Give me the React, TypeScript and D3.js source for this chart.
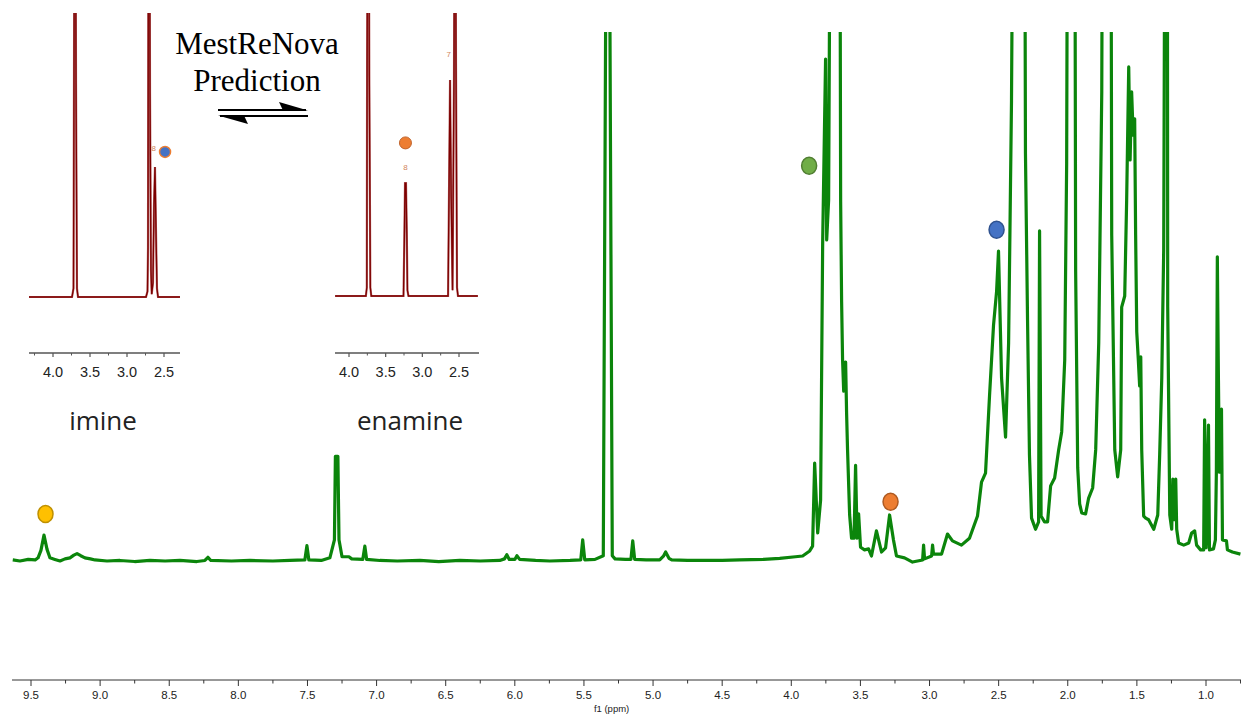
import React from 'react';
import * as d3 from 'd3';

const W = 1241;
const H = 715;

// Main 1H spectrum trace: [ppm, relative intensity] (100 = top of plot; larger values run off the top)
const mainSpectrum: [number, number][] = [
  [9.632, 0.2], [9.58, 0.0], [9.52, 0.3], [9.47, 0.2], [9.449, 0.6], [9.428, 2.0], [9.406, 4.9],
  [9.384, 2.2], [9.363, 0.6], [9.327, 0.3], [9.29, 0.0], [9.254, 0.4], [9.218, 0.6], [9.19, 1.1],
  [9.167, 1.4], [9.14, 1.0], [9.11, 0.6], [9.07, 0.4], [9.037, 0.2], [8.95, 0.0], [8.856, 0.1],
  [8.75, -0.1], [8.64, 0.1], [8.53, 0.0], [8.423, 0.1], [8.3, -0.1], [8.242, 0.1], [8.22, 0.7],
  [8.199, 0.1], [8.05, 0.0], [7.916, 0.1], [7.75, 0.0], [7.627, 0.1], [7.519, 0.2], [7.504, 2.9],
  [7.49, 0.2], [7.4, 0.1], [7.338, 0.6], [7.305, 4], [7.298, 19.8], [7.28, 19.8], [7.272, 4],
  [7.25, 0.8], [7.2, 0.8], [7.18, 0.4], [7.1, 0.3], [7.085, 2.8], [7.072, 0.3], [6.976, 0.1],
  [6.85, 0.0], [6.687, 0.1], [6.55, -0.1], [6.398, 0.1], [6.25, 0.0], [6.109, 0.1], [6.075, 0.4],
  [6.058, 1.2], [6.04, 0.3], [6.0, 0.3], [5.985, 1.0], [5.965, 0.3], [5.85, 0.1], [5.747, 0.0],
  [5.6, 0.1], [5.523, 0.2], [5.509, 4.0], [5.494, 0.2], [5.42, 0.3], [5.36, 1.0], [5.335, 150],
  [5.32, 150], [5.295, 1.0], [5.275, 0.4], [5.2, 0.3], [5.16, 0.3], [5.147, 3.8], [5.133, 0.3],
  [5.05, 0.2], [4.952, 0.2], [4.925, 0.9], [4.909, 1.7], [4.885, 0.5], [4.865, 0.2], [4.75, 0.1],
  [4.663, 0.1], [4.5, 0.1], [4.373, 0.2], [4.2, 0.3], [4.084, 0.5], [3.97, 0.8], [3.918, 0.95],
  [3.867, 1.9], [3.846, 2.8], [3.831, 18.5], [3.809, 5.3], [3.788, 11.5], [3.773, 60.3],
  [3.752, 94.9], [3.744, 60.7], [3.73, 68.2], [3.715, 150], [3.686, 250], [3.65, 150],
  [3.643, 68], [3.636, 49], [3.629, 38.0], [3.621, 32.1], [3.607, 37.6], [3.6, 28], [3.593, 21.0],
  [3.578, 8.7], [3.564, 4.3], [3.546, 4.3], [3.535, 18.1], [3.524, 4.3], [3.513, 8.9],
  [3.499, 2.6], [3.47, 2.1], [3.441, 2.3], [3.42, 0.95], [3.384, 5.7], [3.347, 1.7], [3.318, 2.5],
  [3.289, 8.7], [3.261, 4.0], [3.239, 0.95], [3.181, 0.6], [3.123, -0.2], [3.05, 0.2],
  [3.043, 3.0], [3.036, 0.4], [2.985, 0.95], [2.978, 3.0], [2.971, 1.3], [2.913, 1.3],
  [2.87, 5.1], [2.834, 3.8], [2.769, 3.0], [2.711, 4.3], [2.653, 8.5], [2.624, 14.9],
  [2.595, 16.6], [2.566, 31.2], [2.537, 44.6], [2.515, 50.9], [2.501, 58.6], [2.479, 34.6],
  [2.45, 23.4], [2.428, 41.2], [2.407, 87], [2.392, 150], [2.349, 250], [2.313, 150],
  [2.306, 77], [2.291, 45.6], [2.277, 20], [2.262, 8.1], [2.233, 6.0], [2.211, 7.4],
  [2.204, 62.4], [2.193, 8.5], [2.168, 7.4], [2.146, 7.4], [2.124, 14.2], [2.095, 15.7],
  [2.066, 21.0], [2.044, 24.4], [2.022, 38.0], [2.008, 75.2], [2.0, 150], [1.979, 250],
  [1.95, 150], [1.943, 54.8], [1.928, 17.6], [1.914, 10.8], [1.899, 9.1], [1.871, 8.9],
  [1.849, 11.9], [1.82, 13.8], [1.798, 21.0], [1.776, 41.2], [1.754, 88.7], [1.747, 150],
  [1.718, 250], [1.689, 150], [1.682, 61.6], [1.66, 21.0], [1.639, 15.9], [1.617, 21.0],
  [1.61, 48.0], [1.588, 50.1], [1.574, 68.2], [1.559, 93.4], [1.549, 75.8], [1.538, 88.7],
  [1.527, 80.5], [1.516, 83.6], [1.509, 61.6], [1.501, 43.3], [1.49, 38.2], [1.48, 33.1],
  [1.472, 38.6], [1.465, 21.0], [1.451, 8.5], [1.436, 8.1], [1.415, 7.8], [1.378, 6.0],
  [1.349, 8.7], [1.335, 20.2], [1.32, 34.6], [1.306, 58.8], [1.295, 150], [1.288, 250],
  [1.28, 150], [1.277, 48.0], [1.262, 8.7], [1.248, 6.0], [1.24, 15.5], [1.23, 7.8],
  [1.219, 15.5], [1.212, 6.0], [1.198, 3.4], [1.161, 3.0], [1.125, 3.4], [1.104, 5.3],
  [1.082, 5.7], [1.068, 3.0], [1.039, 2.1], [1.017, 2.1], [1.01, 26.7], [0.999, 2.5],
  [0.982, 25.7], [0.975, 2.1], [0.946, 2.3], [0.932, 4.0], [0.925, 16.8], [0.918, 57.5],
  [0.91, 34.2], [0.903, 16.8], [0.888, 28.7], [0.881, 4.0], [0.852, 3.8], [0.845, 2.1],
  [0.809, 1.7], [0.751, 1.3],
];

const mainMajorTicks = [9.5, 9.0, 8.5, 8.0, 7.5, 7.0, 6.5, 6.0, 5.5, 5.0, 4.5, 4.0, 3.5, 3.0, 2.5, 2.0, 1.5, 1.0];
const mainMinorTicks = [9.25, 8.75, 8.25, 7.75, 7.25, 6.75, 6.25, 5.75, 5.25, 4.75, 4.25, 3.75, 3.25, 2.75, 2.25, 1.75, 1.25, 0.75];

// Annotation markers on the main spectrum: [ppm, intensity]
const markerYellow: [number, number] = [9.395, 8.9];
const markerGreen: [number, number] = [3.871, 74.7];
const markerOrange: [number, number] = [3.282, 11.2];
const markerBlue: [number, number] = [2.515, 62.6];

// Predicted spectra (insets): [ppm, intensity]
const imineSpectrum: [number, number][] = [
  [4.324, 0], [3.743, 0], [3.723, 3], [3.716, 78.9], [3.71, 150], [3.696, 150], [3.689, 75.4],
  [3.676, 3], [3.662, 0], [2.743, 0], [2.723, 2], [2.716, 17.3], [2.71, 150], [2.696, 150],
  [2.689, 71.8], [2.676, 9.5], [2.666, 1], [2.649, 5], [2.635, 32.4], [2.622, 45.8],
  [2.604, 16.5], [2.595, 3], [2.581, 0], [2.284, 0],
];
const enamineSpectrum: [number, number][] = [
  [4.189, 0], [3.77, 0], [3.757, 3], [3.753, 82.3], [3.745, 150], [3.73, 150], [3.723, 78.1],
  [3.709, 3], [3.696, 0], [3.257, 0], [3.246, 18.7], [3.236, 39.9], [3.223, 39.9], [3.212, 22.3],
  [3.203, 2], [3.189, 0], [2.649, 0], [2.635, 39.9], [2.622, 76.3], [2.608, 37.5], [2.588, 2],
  [2.568, 78.1], [2.56, 150], [2.548, 150], [2.541, 82.3], [2.527, 3], [2.514, 0], [2.243, 0],
];
const insetMajorTicks = [4.0, 3.5, 3.0, 2.5];
const insetMinorTicks = [4.25, 3.75, 3.25, 2.75];

const imineMarker: [number, number] = [2.486, 51.1];
const imineLabel: [number, number, string] = [2.64, 51.5, '8'];
const enamineMarker: [number, number] = [3.23, 54.1];
const enamineLabels: [number, number, string][] = [[3.23, 44.5, '8'], [2.64, 84.5, '7']];

const GREEN = '#0b850b';
const DARKRED = '#7d0000';
const HALO = '#b86a6a';

export default function App() {
  const x = d3.scaleLinear().domain([9.5, 1.0]).range([31, 1206]);
  const y = d3.scaleLinear().domain([0, 100]).range([561, 32]);
  const line = d3.line<[number, number]>().x(d => x(d[0])).y(d => y(d[1]));

  const xi = d3.scaleLinear().domain([4.0, 2.5]).range([53, 164]);
  const yi = d3.scaleLinear().domain([0, 100]).range([297, 13]);
  const lineI = d3.line<[number, number]>().x(d => xi(d[0])).y(d => yi(d[1]));

  const xe = d3.scaleLinear().domain([4.0, 2.5]).range([349, 459]);
  const ye = d3.scaleLinear().domain([0, 100]).range([296, 13]);
  const lineE = d3.line<[number, number]>().x(d => xe(d[0])).y(d => ye(d[1]));

  const axisY = 680;
  const insetAxisY = 353;
  const sans = 'Liberation Sans, Arial, Helvetica, sans-serif';

  const marker = (p: [number, number], fill: string, stroke: string, key: string) => (
    <ellipse key={key} cx={x(p[0])} cy={y(p[1])} rx={7.5} ry={8.5} fill={fill} stroke={stroke} strokeWidth={1.5} />
  );

  const insetAxis = (
    sx: d3.ScaleLinear<number, number>,
    x0: number,
    x1: number,
    key: string
  ) => (
    <g key={key}>
      <line x1={x0} x2={x1} y1={insetAxisY} y2={insetAxisY} stroke="#555" strokeWidth={1.6} />
      {insetMajorTicks.map(t => (
        <g key={t}>
          <line x1={sx(t)} x2={sx(t)} y1={insetAxisY} y2={insetAxisY + 4} stroke="#555" strokeWidth={1.2} />
          <text x={sx(t)} y={insetAxisY + 24} textAnchor="middle" fontFamily={sans} fontSize={14.5} fill="#222">
            {t.toFixed(1)}
          </text>
        </g>
      ))}
      {insetMinorTicks
        .filter(t => sx(t) >= x0 && sx(t) <= x1)
        .map(t => (
          <line key={t} x1={sx(t)} x2={sx(t)} y1={insetAxisY} y2={insetAxisY + 2.5} stroke="#555" strokeWidth={1} />
        ))}
    </g>
  );

  return (
    <svg width={W} height={H} style={{ position: 'absolute', left: 0, top: 0, display: 'block' }}>
      <defs>
        <clipPath id="mainClip">
          <rect x={0} y={32} width={W} height={600} />
        </clipPath>
        <clipPath id="imineClip">
          <rect x={29} y={13} width={151} height={290} />
        </clipPath>
        <clipPath id="enamineClip">
          <rect x={335} y={13} width={145} height={290} />
        </clipPath>
      </defs>
      <rect x={0} y={0} width={W} height={H} fill="#fff" />

      {/* Main spectrum */}
      <path
        d={line(mainSpectrum) || ''}
        fill="none"
        stroke={GREEN}
        strokeWidth={3.2}
        strokeLinejoin="round"
        clipPath="url(#mainClip)"
      />

      {marker(markerYellow, '#FFC000', '#BF9000', 'my')}
      {marker(markerGreen, '#70AD47', '#507E32', 'mg')}
      {marker(markerOrange, '#ED7D31', '#AE5A21', 'mo')}
      {marker(markerBlue, '#4472C4', '#2F528F', 'mb')}

      {/* Main axis */}
      <line x1={12} x2={W} y1={axisY} y2={axisY} stroke="#333" strokeWidth={1} />
      {mainMajorTicks.map(t => (
        <g key={t}>
          <line x1={x(t)} x2={x(t)} y1={axisY} y2={axisY + 6} stroke="#333" strokeWidth={1} />
          <text x={x(t)} y={axisY + 19} textAnchor="middle" fontFamily={sans} fontSize={11.5} fill="#222">
            {t.toFixed(1)}
          </text>
        </g>
      ))}
      {mainMinorTicks.map(t => (
        <line key={t} x1={x(t)} x2={x(t)} y1={axisY} y2={axisY + 3.5} stroke="#333" strokeWidth={1} />
      ))}
      <text x={x(5.3)} y={axisY + 32} textAnchor="middle" fontFamily={sans} fontSize={9.5} fill="#222">
        f1 (ppm)
      </text>

      {/* Imine inset */}
      <g clipPath="url(#imineClip)">
        <path d={lineI(imineSpectrum) || ''} fill="none" stroke={HALO} strokeWidth={2.2} />
        <path d={lineI(imineSpectrum) || ''} fill="none" stroke={DARKRED} strokeWidth={1.3} />
      </g>
      {insetAxis(xi, 29, 180, 'ai')}
      <text x={xi(imineLabel[0])} y={yi(imineLabel[1])} fontFamily={sans} fontSize={8} fill="#D0845A" textAnchor="middle">
        {imineLabel[2]}
      </text>
      <circle cx={xi(imineMarker[0])} cy={yi(imineMarker[1])} r={5.5} fill="#4472C4" stroke="#ED7D31" strokeWidth={1.5} />
      <text x={103} y={430} textAnchor="middle" fontFamily="Open Sans, sans-serif" fontSize={26} fill="#222">
        imine
      </text>

      {/* Enamine inset */}
      <g clipPath="url(#enamineClip)">
        <path d={lineE(enamineSpectrum) || ''} fill="none" stroke={HALO} strokeWidth={2.2} />
        <path d={lineE(enamineSpectrum) || ''} fill="none" stroke={DARKRED} strokeWidth={1.3} />
      </g>
      {insetAxis(xe, 335, 479, 'ae')}
      <circle cx={xe(enamineMarker[0])} cy={ye(enamineMarker[1])} r={6} fill="#ED7D31" stroke="#C0622A" strokeWidth={1} />
      {enamineLabels.map(l => (
        <text key={l[2]} x={xe(l[0])} y={ye(l[1])} fontFamily={sans} fontSize={8} fill="#D0845A" textAnchor="middle">
          {l[2]}
        </text>
      ))}
      <text x={410} y={430} textAnchor="middle" fontFamily="Open Sans, sans-serif" fontSize={26} fill="#222">
        enamine
      </text>

      {/* Title and equilibrium arrows */}
      <text x={257} y={54} textAnchor="middle" fontFamily="Liberation Serif, Times New Roman, serif" fontSize={31} fill="#000">
        MestReNova
      </text>
      <text x={257} y={91} textAnchor="middle" fontFamily="Liberation Serif, Times New Roman, serif" fontSize={31} fill="#000">
        Prediction
      </text>
      <line x1={218} x2={306} y1={110} y2={110} stroke="#000" strokeWidth={2} />
      <path d="M 308 110.5 L 279 102 L 283 110.5 Z" fill="#000" />
      <line x1={220} x2={308} y1={116} y2={116} stroke="#000" strokeWidth={2} />
      <path d="M 218 115.5 L 248 124 L 244 115.5 Z" fill="#000" />
    </svg>
  );
}
